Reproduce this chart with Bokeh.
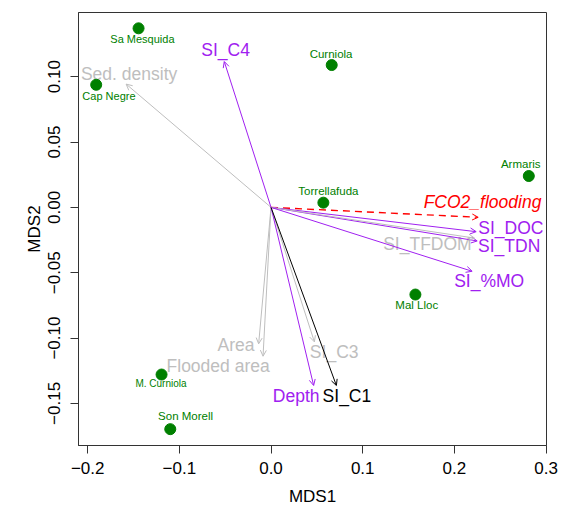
from bokeh.plotting import figure
from bokeh.models import ColumnDataSource, Arrow, OpenHead, Range1d, FixedTicker
from bokeh.core.properties import value
from bokeh.embed import file_html
from bokeh.resources import INLINE

# ---- data ----
sites = ["Sa Mesquida", "Cap Negre", "Curniola", "Armaris", "Torrellafuda",
         "Mal Lloc", "M. Curniola", "Son Morell"]
site_x = [-0.1445, -0.1907, 0.0662, 0.2812, 0.0571, 0.1575, -0.1194, -0.1099]
site_y = [0.137, 0.0938, 0.1089, 0.024, 0.0036, -0.0667, -0.1279, -0.1697]
site_label_x = [-0.1403, -0.1768, 0.0655, 0.2724, 0.0626, 0.159, -0.120, -0.0932]
site_label_y = [0.1288, 0.0852, 0.1175, 0.0329, 0.0128, -0.0749, -0.1346, -0.1595]

vectors = ["Sed. density", "SI_C4", "FCO2_flooding", "SI_DOC", "SI_TDN", "SI_TFDOM",
           "SI_%MO", "Area", "Flooded area", "SI_C3", "Depth", "SI_C1"]
vec_x = [-0.158, -0.051, 0.226, 0.2238, 0.2249, 0.222, 0.2194, -0.0135, -0.0087, 0.0473, 0.0465, 0.0713]
vec_y = [0.0943, 0.1116, -0.0076, -0.0186, -0.0257, -0.0235, -0.0489, -0.1044, -0.1139, -0.1029, -0.1363, -0.1363]
vec_label_x = [-0.1548, -0.0496, 0.2307, 0.2616, 0.2598, 0.1706, 0.238, -0.0381, -0.0577, 0.0689, 0.0274, 0.0828]
vec_label_y = [0.1024, 0.1205, 0.0038, -0.016, -0.0298, -0.0278, -0.056, -0.1052, -0.1216, -0.1103, -0.144, -0.144]
vec_group = ["env", "si", "flux", "si", "si", "env", "si", "env", "env", "env", "si", "c1"]

x_ticks = [-0.2, -0.1, 0.0, 0.1, 0.2, 0.3]
y_ticks = [-0.15, -0.10, -0.05, 0.00, 0.05, 0.10]
y_tick_labels = {-0.15: "\u22120.15", -0.10: "\u22120.10", -0.05: "\u22120.05",
                 0.0: "0.00", 0.05: "0.05", 0.10: "0.10"}
x_tick_labels = {-0.2: "\u22120.2", -0.1: "\u22120.1", 0.0: "0.0", 0.1: "0.1", 0.2: "0.2", 0.3: "0.3"}

# ---- styles ----
GREEN = "#008000"
colors = {"env": "#BEBEBE", "si": "#A020F0", "flux": "#FF0000", "c1": "#000000"}
FONT = "Liberation Sans"

p = figure(width=561, height=508, output_backend="svg", toolbar_location=None,
           x_range=Range1d(-0.2100, 0.3005), y_range=Range1d(-0.1822, 0.1491),
           min_border_left=78, min_border_right=15, min_border_top=12, min_border_bottom=63)
p.grid.visible = False
p.outline_line_color = "#333333"
p.outline_line_width = 1
p.background_fill_color = "white"
p.border_fill_color = "white"

for ax, ticks, labels in ((p.xaxis[0], x_ticks, x_tick_labels), (p.yaxis[0], y_ticks, y_tick_labels)):
    ax.ticker = FixedTicker(ticks=ticks)
    ax.major_label_overrides = labels
    ax.major_tick_out = 8
    ax.major_tick_in = 0
    ax.minor_tick_line_color = None
    ax.axis_line_color = "#333333"
    ax.major_tick_line_color = "#333333"
    ax.major_label_text_font = FONT
    ax.major_label_text_font_size = "17px"
    ax.major_label_text_color = "black"
    ax.axis_label_text_font = FONT
    ax.axis_label_text_font_size = "17px"
    ax.axis_label_text_font_style = "normal"
    ax.axis_label_text_color = "black"

p.xaxis.axis_label = "MDS1"
p.yaxis.axis_label = "MDS2"
p.yaxis.major_label_orientation = "vertical"
p.xaxis.major_label_standoff = 8
p.yaxis.major_label_standoff = 10
p.xaxis.axis_label_standoff = 10
p.yaxis.axis_label_standoff = 2

# vectors
for i, name in enumerate(vectors):
    col = colors[vec_group[i]]
    dash = "7 5" if vec_group[i] == "flux" else "solid"
    lw = 1.4 if vec_group[i] == "flux" else 1.0
    p.add_layout(Arrow(end=OpenHead(size=6, line_color=col, line_width=1),
                       x_start=0, y_start=0, x_end=vec_x[i], y_end=vec_y[i],
                       line_color=col, line_width=lw, line_dash=dash))

vsrc = ColumnDataSource(dict(x=vec_label_x, y=vec_label_y, text=vectors,
                             color=[colors[g] for g in vec_group],
                             style=["italic" if g == "flux" else "normal" for g in vec_group]))
p.text(x="x", y="y", text="text", source=vsrc, text_color="color", text_font_style="style",
       text_font=value(FONT), text_font_size="17.5px", text_align="center", text_baseline="middle")

# sites
ssrc = ColumnDataSource(dict(x=site_x, y=site_y))
p.scatter(x="x", y="y", source=ssrc, size=11, fill_color=GREEN, line_color=GREEN)
lsrc = ColumnDataSource(dict(x=site_label_x, y=site_label_y, text=sites,
                             fs=["11px", "11px", "11.5px", "11.5px", "11.5px", "11.5px", "10px", "11.5px"]))
p.text(x="x", y="y", text="text", source=lsrc, text_color=GREEN, text_font=value(FONT),
       text_font_size="fs", text_align="center", text_baseline="middle")

open("out.html", "w").write(file_html(p, INLINE))
